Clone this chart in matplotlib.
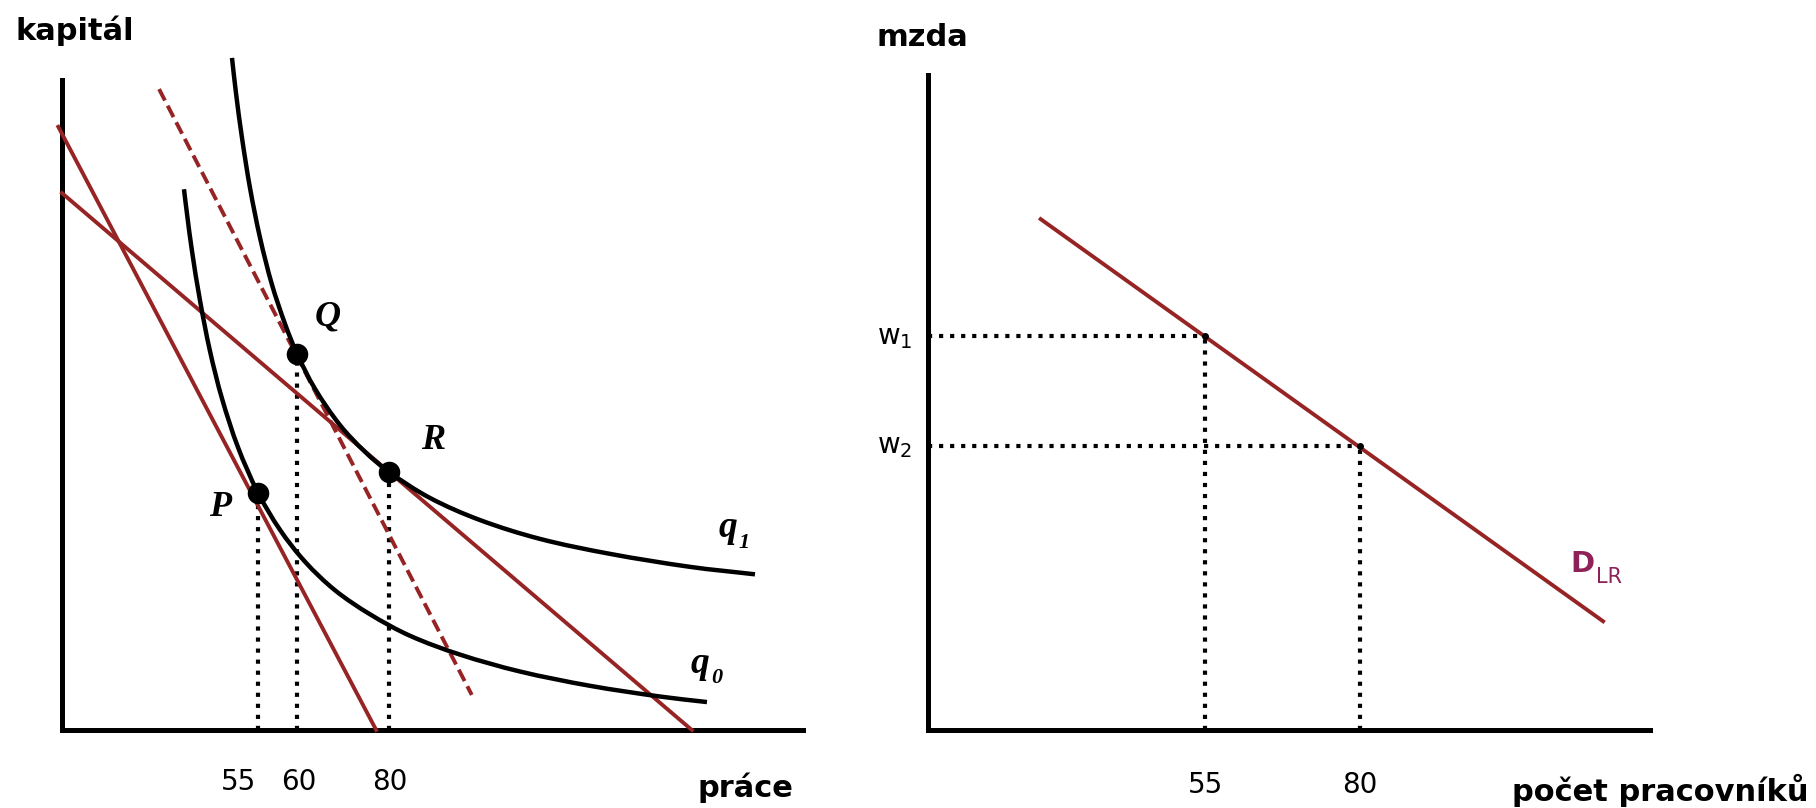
import matplotlib
matplotlib.use("Agg")
import matplotlib.pyplot as plt
import numpy as np
from matplotlib.path import Path
from matplotlib.patches import PathPatch

# ---- left panel: isoquants and isocost lines (schematic units 0-100) ----
q1_labor = [22.94, 23.48, 24.29, 25.37, 26.73, 28.34, 30.09, 31.71, 34.14, 37.52,
            40.89, 44.13, 49.66, 56.41, 64.51, 73.95, 84.75, 93.52]
q1_capital = [103.4, 98.0, 91.1, 83.4, 75.7, 68.5, 62.5, 57.9, 52.5, 46.9,
              42.8, 39.7, 35.7, 32.3, 29.4, 27.1, 25.1, 23.95]
q0_labor = [16.46, 16.87, 17.54, 18.62, 19.97, 21.59, 23.75, 26.45, 29.42, 32.79,
            36.84, 41.57, 46.96, 53.71, 61.81, 71.26, 80.7, 87.04]
q0_capital = [83.2, 79.4, 73.7, 66.1, 58.3, 51.0, 43.5, 36.5, 30.8, 25.9,
              21.5, 17.8, 14.5, 11.6, 9.0, 6.8, 5.15, 4.3]

iso_steep_l = [-0.5, 42.4]
iso_steep_k = [92.8, 0.0]
iso_flat_l = [0.0, 85.0]
iso_flat_k = [82.6, 0.0]
iso_dash_l = [13.1, 55.3]
iso_dash_k = [98.6, 5.4]

pt_names = ["P", "Q", "R"]
pt_labor = [26.45, 31.71, 44.13]
pt_capital = [36.5, 57.8, 39.7]
pt_ticks = ["55", "60", "80"]

# ---- right panel: long-run labour demand ----
d_workers = [15.6, 93.5]
d_wage = [78.0, 16.6]
dem_workers = [38.4, 59.8]
dem_wage = [60.1, 43.4]
dem_ticks = ["55", "80"]
wage_labels = ["w$_1$", "w$_2$"]

RED = "#962424"
PURPLE = "#8e2157"
W, H = 1816, 808

fig = plt.figure(figsize=(W / 100, H / 100), dpi=100)
plt.rcParams["font.family"] = ["DejaVu Sans"]


def make_axes(x0, x1, y0, y1):
    ax = fig.add_axes([x0 / W, 1 - y1 / H, (x1 - x0) / W, (y1 - y0) / H])
    ax.set_xlim(0, 100)
    ax.set_ylim(0, 100)
    ax.patch.set_visible(False)
    for s in ["top", "right"]:
        ax.spines[s].set_visible(False)
    for s in ["left", "bottom"]:
        ax.spines[s].set_linewidth(3.6)
        ax.spines[s].set_capstyle("projecting")
    ax.set_xticks([])
    ax.set_yticks([])
    return ax


def smooth_curve(ax, xs, ys, **kw):
    # smooth line through the read points (cubic Bezier segments)
    p = np.column_stack([xs, ys])
    n = len(p)
    d = np.hypot(*np.diff(p, axis=0).T)
    m = np.zeros_like(p)
    m[0] = (p[1] - p[0]) / d[0]
    m[-1] = (p[-1] - p[-2]) / d[-1]
    for i in range(1, n - 1):
        m[i] = (p[i + 1] - p[i - 1]) / (d[i - 1] + d[i])
    verts = [p[0]]
    codes = [Path.MOVETO]
    for i in range(n - 1):
        verts += [p[i] + m[i] * d[i] / 3, p[i + 1] - m[i + 1] * d[i] / 3, p[i + 1]]
        codes += [Path.CURVE4] * 3
    patch = PathPatch(Path(verts, codes), fill=False, clip_on=False,
                      capstyle="butt", **kw)
    ax.add_patch(patch)


ax1 = make_axes(62, 803, 80, 730)

for x, y in zip(pt_labor, pt_capital):
    ax1.plot([x, x], [0, y], color="black", lw=3, ls=":", zorder=2)

ax1.plot(iso_steep_l, iso_steep_k, color=RED, lw=2.8, clip_on=False, zorder=3)
ax1.plot(iso_flat_l, iso_flat_k, color=RED, lw=2.8, clip_on=False, zorder=3)
ax1.plot(iso_dash_l, iso_dash_k, color=RED, lw=2.8, dashes=(3.3, 1.5), clip_on=False, zorder=3)
smooth_curve(ax1, q1_labor, q1_capital, edgecolor="black", lw=3.2, zorder=4)
smooth_curve(ax1, q0_labor, q0_capital, edgecolor="black", lw=3.2, zorder=4)
ax1.plot(pt_labor, pt_capital, "o", color="black", ms=14.5, zorder=5)

serif_bi = dict(family="Liberation Serif", weight="bold", style="italic")
offs = {"P": (-5.1, -2.3), "Q": (4.1, 5.7), "R": (6.0, 4.9)}
for n, x, y in zip(pt_names, pt_labor, pt_capital):
    dx, dy = offs[n]
    ax1.text(x + dx, y + dy, n, fontsize=26, ha="center", va="center", **serif_bi)

ax1.text(89.8, 31.1, "q", fontsize=27, ha="center", va="center", **serif_bi)
ax1.text(92.1, 28.8, "1", fontsize=16, ha="center", va="center", **serif_bi)
ax1.text(86.1, 10.3, "q", fontsize=27, ha="center", va="center", **serif_bi)
ax1.text(88.4, 8.0, "0", fontsize=16, ha="center", va="center", **serif_bi)

tick_shift = [-2.6, 0.2, 0.1]
for x, t, s in zip(pt_labor, pt_ticks, tick_shift):
    ax1.text(x + s, -8.0, t, fontsize=20, ha="center", va="center")

ax1.text(-6.3, 107.5, "kapitál", fontsize=22, weight="bold", ha="left", va="center")
ax1.text(92.2, -8.9, "práce", fontsize=22, weight="bold", ha="center", va="center")

ax2 = make_axes(928, 1650, 75, 730)

for x, y in zip(dem_workers, dem_wage):
    ax2.plot([0, x], [y, y], color="black", lw=3, ls=":", zorder=2)
    ax2.plot([x, x], [0, y], color="black", lw=3, ls=":", zorder=2)

ax2.plot(d_workers, d_wage, color=RED, lw=2.8, zorder=3)
ax2.plot(dem_workers, dem_wage, "o", color="black", ms=4, zorder=4)

for y, lab in zip(dem_wage, wage_labels):
    ax2.text(-2.2, y - 1.15, lab, fontsize=20, ha="right", va="baseline")
for x, t in zip(dem_workers, dem_ticks):
    ax2.text(x, -8.4, t, fontsize=20, ha="center", va="center")

ax2.text(90.6, 25.3, "D", fontsize=21, weight="bold", color=PURPLE, ha="center", va="center")
ax2.text(94.3, 23.4, "LR", fontsize=15, color=PURPLE, ha="center", va="center")

ax2.text(-7.1, 105.8, "mzda", fontsize=22, weight="bold", ha="left", va="center")
ax2.text(80.9, -9.2, "počet pracovníků", fontsize=22, weight="bold", ha="left", va="center")

fig.savefig("out.png", dpi=100)
